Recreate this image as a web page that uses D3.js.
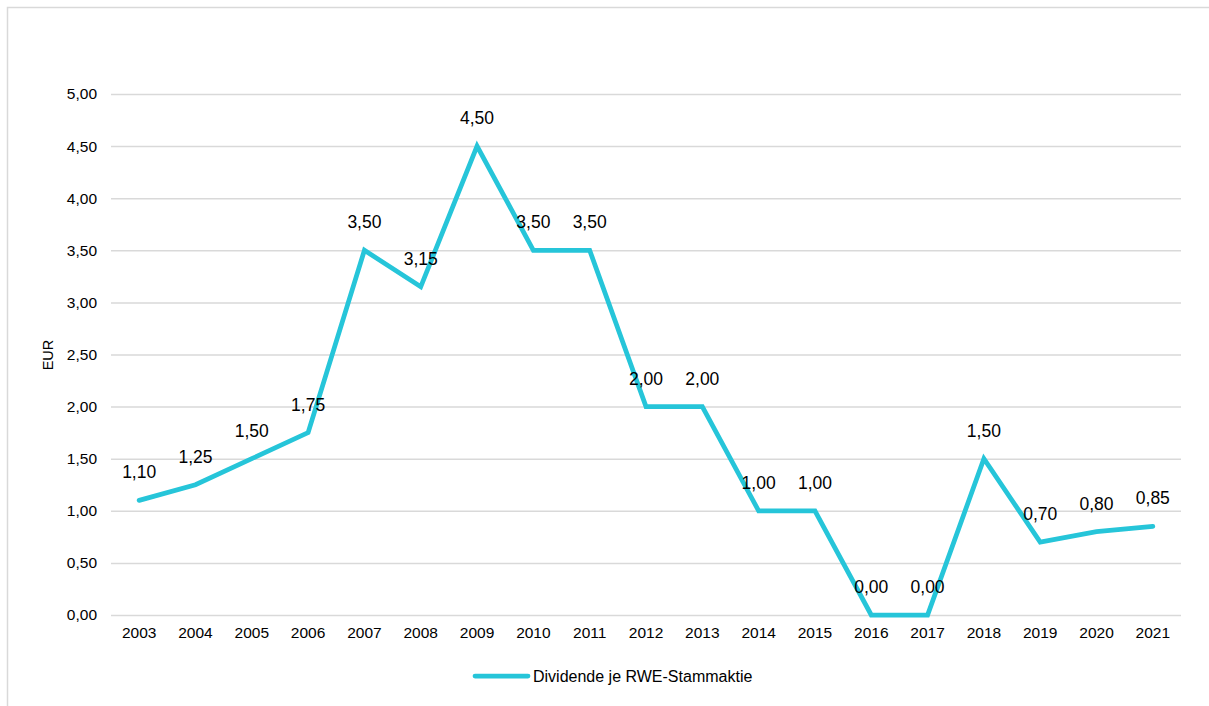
<!DOCTYPE html>
<html>
<head>
<meta charset="utf-8">
<script src="https://cdn.jsdelivr.net/npm/d3@7"></script>
<style>
  html, body { margin: 0; padding: 0; background: #fff; }
  svg { display: block; font-family: "Liberation Sans", Arial, sans-serif; }
</style>
</head>
<body>
<svg id="chart" width="1209" height="706"></svg>
<script>
const years = ["2003","2004","2005","2006","2007","2008","2009","2010","2011","2012","2013","2014","2015","2016","2017","2018","2019","2020","2021"];
const dividends = [1.10, 1.25, 1.50, 1.75, 3.50, 3.15, 4.50, 3.50, 3.50, 2.00, 2.00, 1.00, 1.00, 0.00, 0.00, 1.50, 0.70, 0.80, 0.85];
const yTicks = [0, 0.5, 1, 1.5, 2, 2.5, 3, 3.5, 4, 4.5, 5];
const seriesName = "Dividende je RWE-Stammaktie";
const axisTitle = "EUR";

(function () {
const svg = d3.select("#chart");
const W = 1209, H = 706;
const lineColor = "#26c5d9";
const gridColor = "#d9d9d9";
const fmt = v => d3.format(".2f")(v).replace(".", ",");

// outer frame
svg.append("rect").attr("x", 7.5).attr("y", 7.5).attr("width", W + 10).attr("height", H + 10)
  .attr("fill", "none").attr("stroke", gridColor).attr("stroke-width", 1.5);

const pLeft = 111, pRight = 1181, pTop = 94, pBottom = 615;

const x = d3.scaleBand().domain(years).range([pLeft, pRight]).padding(0);
const y = d3.scaleLinear().domain([0, 5]).range([pBottom, pTop]);

// gridlines + y labels
const yAxis = d3.axisLeft(y).tickValues(yTicks).tickSize(-(pRight - pLeft)).tickFormat(fmt).tickPadding(14);
const gy = svg.append("g").attr("transform", `translate(${pLeft},0)`).call(yAxis);
gy.select(".domain").remove();
gy.selectAll(".tick line").attr("stroke", gridColor).attr("stroke-width", 1.5);
gy.selectAll(".tick text").attr("font-size", "15.5px").attr("fill", "#000")
  .attr("font-family", "Liberation Sans, Arial, sans-serif");

// x axis labels
const xAxis = d3.axisBottom(x).tickSize(0).tickPadding(12);
const gx = svg.append("g").attr("transform", `translate(0,${pBottom})`).call(xAxis);
gx.select(".domain").remove();
gx.selectAll(".tick text").attr("font-size", "15.5px").attr("fill", "#000")
  .attr("font-family", "Liberation Sans, Arial, sans-serif");

// axis title
svg.append("text").attr("transform", `translate(53,355) rotate(-90)`)
  .attr("text-anchor", "middle").attr("font-size", "14.5px").attr("fill", "#000").text(axisTitle);

// line
const line = d3.line().x((d, i) => x(years[i]) + x.bandwidth() / 2).y(d => y(d));
svg.append("path").datum(dividends).attr("d", line)
  .attr("fill", "none").attr("stroke", lineColor).attr("stroke-width", 4.75)
  .attr("stroke-linejoin", "miter").attr("stroke-linecap", "round");

// data labels
svg.append("g").selectAll("text").data(dividends).join("text")
  .attr("x", (d, i) => x(years[i]) + x.bandwidth() / 2)
  .attr("y", d => y(d) - 22)
  .attr("text-anchor", "middle").attr("font-size", "17.5px").attr("fill", "#000")
  .text(d => fmt(d));

// legend
const lg = svg.append("g").attr("transform", `translate(475,676)`);
lg.append("line").attr("x1", 0).attr("x2", 53).attr("y1", 0).attr("y2", 0)
  .attr("stroke", lineColor).attr("stroke-width", 4.75).attr("stroke-linecap", "round");
lg.append("text").attr("x", 58).attr("y", 5.5).attr("font-size", "16px").attr("fill", "#000").text(seriesName);
})();
</script>
</body>
</html>
